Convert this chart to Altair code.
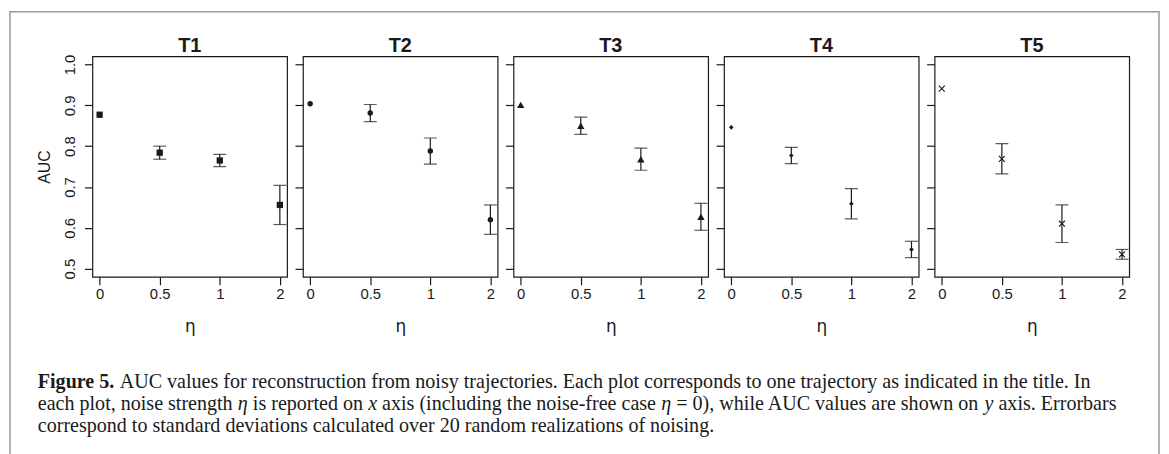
import altair as alt
import pandas as pd

# ---- data ----
eta = ["0", "0.5", "1", "2"]
panel_names = ["T1", "T2", "T3", "T4", "T5"]

auc_T1 = [0.877, 0.784, 0.765, 0.656]
sd_T1 = [0.0, 0.016, 0.015, 0.048]
auc_T2 = [0.904, 0.881, 0.788, 0.620]
sd_T2 = [0.0, 0.021, 0.032, 0.036]
auc_T3 = [0.901, 0.850, 0.768, 0.627]
sd_T3 = [0.0, 0.021, 0.027, 0.033]
auc_T4 = [0.846, 0.777, 0.659, 0.547]
sd_T4 = [0.0, 0.020, 0.037, 0.020]
auc_T5 = [0.941, 0.769, 0.610, 0.535]
sd_T5 = [0.0, 0.037, 0.046, 0.012]

y_ticks = [0.5, 0.6, 0.7, 0.8, 0.9, 1.0]

# caption, split into (text, style) runs; style: n = normal, b = bold, i = italic
caption_line1 = [("Figure 5.", "b"), (" AUC values for reconstruction from noisy trajectories. Each plot corresponds to one trajectory as indicated in the title. In", "n")]
caption_line2 = [("each plot, noise strength ", "n"), ("\u03b7", "i"), (" is reported on ", "n"), ("x", "i"),
                 (" axis (including the noise-free case ", "n"), ("\u03b7", "i"), (" = 0), while AUC values are shown on ", "n"),
                 ("y", "i"), (" axis. Errorbars", "n")]
caption_line3 = [("correspond to standard deviations calculated over 20 random realizations of noising.", "n")]

all_auc = [auc_T1, auc_T2, auc_T3, auc_T4, auc_T5]
all_sd = [sd_T1, sd_T2, sd_T3, sd_T4, sd_T5]

shapes = ["square", "circle", "triangle-up", "diamond", "M-1,-1L1,1M-1,1L1,-1"]
sizes = [40, 30, 55, 22, 36]
filled = [True, True, True, True, False]

INK = "#1a1a1a"
W, H = 196, 222
SANS = "Liberation Sans"
SERIF = "Liberation Serif"
CAP_FS = 20.2

# Times-compatible advance widths (per 1000 em) used to place caption runs
_REG = {" ": 250, "a": 444, "b": 500, "c": 444, "d": 500, "e": 444, "f": 333, "g": 500, "h": 500,
        "i": 278, "j": 278, "k": 500, "l": 278, "m": 778, "n": 500, "o": 500, "p": 500, "q": 500,
        "r": 333, "s": 389, "t": 278, "u": 500, "v": 500, "w": 722, "x": 500, "y": 500, "z": 444,
        ",": 250, ".": 250, "(": 333, ")": 333, "-": 333, "=": 564, "0": 500, "5": 500, "2": 500,
        "A": 722, "U": 722, "C": 667, "E": 611, "F": 556, "I": 333, "\u03b7": 500}
_BOLD = {"F": 611, "i": 278, "g": 500, "u": 556, "r": 444, "e": 444, " ": 250, "5": 500, ".": 250}
_ITAL = {"x": 444, "y": 444, "\u03b7": 500}


def run_width(s, style):
    table = {"b": _BOLD, "i": _ITAL}.get(style, _REG)
    return sum(table.get(c, _REG.get(c, 500)) for c in s) * CAP_FS / 1000.0


yscale = alt.Scale(domain=[0.48, 1.02], nice=False, zero=False)
xscale = alt.Scale(type="point", padding=0.12)


def text_layer(s, x, y, **kw):
    return alt.Chart(pd.DataFrame({"t": [s]})).mark_text(
        align=kw.pop("align", "left"), baseline="alphabetic", color=INK, **kw
    ).encode(x=alt.value(x), y=alt.value(y), text="t:N")


def caption_layers(runs, x0, y):
    out = []
    x = x0
    for s, style in runs:
        kw = dict(font=SERIF, fontSize=CAP_FS)
        if style == "b":
            kw["fontWeight"] = "bold"
        if style == "i":
            kw["fontStyle"] = "italic"
        lead = s[: len(s) - len(s.lstrip(" "))]
        body = s.strip(" ")
        trail = s[len(s.rstrip(" ")):]
        x += run_width(lead, "n")
        out.append(text_layer(body, round(x, 2), y, **kw))
        x += run_width(body, style) + run_width(trail, "n")
    return out


def make_panel(i):
    df = pd.DataFrame({"eta": eta, "auc": all_auc[i], "sd": all_sd[i]})
    df["lo"] = df["auc"] - df["sd"]
    df["hi"] = df["auc"] + df["sd"]
    err = df[df["sd"] > 0]

    first = i == 0
    yaxis = alt.Axis(
        values=y_ticks,
        format=".1f",
        labels=first,
        title="AUC" if first else None,
        labelAngle=270,
        labelAlign="center",
        labelBaseline="bottom",
        labelPadding=7,
        titleFontSize=16,
        titleFont=SANS,
        titleFontWeight="normal",
        titleColor=INK,
        titlePadding=10,
    )
    xaxis = alt.Axis(
        title="\u03b7",
        labelAngle=0,
        labelAlign="center",
        labelPadding=9,
        titleFontSize=17,
        titleFont="DejaVu Sans",
        titleFontWeight="normal",
        titleColor=INK,
        titlePadding=17,
    )
    x = alt.X("eta:O", sort=eta, scale=xscale, axis=xaxis)

    base = alt.Chart(df)
    pts = base.mark_point(
        shape=shapes[i],
        size=sizes[i],
        filled=filled[i],
        color=INK,
        opacity=1,
        strokeWidth=1.1,
    ).encode(x=x, y=alt.Y("auc:Q", scale=yscale, axis=yaxis))

    ebase = alt.Chart(err)
    xe = alt.X("eta:O", sort=eta, scale=xscale)
    rule = ebase.mark_rule(color=INK, strokeWidth=1.2).encode(
        x=xe, y=alt.Y("lo:Q", scale=yscale), y2="hi:Q"
    )
    cap_lo = ebase.mark_tick(color=INK, size=13, thickness=1.2).encode(
        x=xe, y=alt.Y("lo:Q", scale=yscale)
    )
    cap_hi = ebase.mark_tick(color=INK, size=13, thickness=1.2).encode(
        x=xe, y=alt.Y("hi:Q", scale=yscale)
    )
    title = text_layer(
        panel_names[i], W / 2, -4, align="center", font=SANS, fontSize=20,
        fontWeight="bold",
    )
    layers = [rule, cap_lo, cap_hi, pts, title]

    if first:
        one = pd.DataFrame({"k": [0]})
        frame = alt.Chart(one).mark_rect(
            fill="white", fillOpacity=0, stroke="#9a9a9a", strokeWidth=1.5
        ).encode(
            x=alt.value(-83), x2=alt.value(1074), y=alt.value(-45), y2=alt.value(430)
        )
        x0 = -55
        layers = (
            [frame] + layers
            + caption_layers(caption_line1, x0, 334)
            + caption_layers(caption_line2, x0, 356)
            + caption_layers(caption_line3, x0, 378)
        )

    return alt.layer(*layers).properties(width=W, height=H)


chart = alt.hconcat(
    *[make_panel(i) for i in range(5)], spacing=16, bounds="flush"
).properties(
    padding=0, background="white"
).configure_view(
    stroke=INK, strokeWidth=1.2
).configure_axis(
    domain=False,
    grid=False,
    tickColor=INK,
    tickWidth=1.2,
    tickSize=8,
    labelFont=SANS,
    labelFontSize=15,
    labelColor=INK,
)

chart.save("out.html", embed_options={"renderer": "svg", "actions": False})
